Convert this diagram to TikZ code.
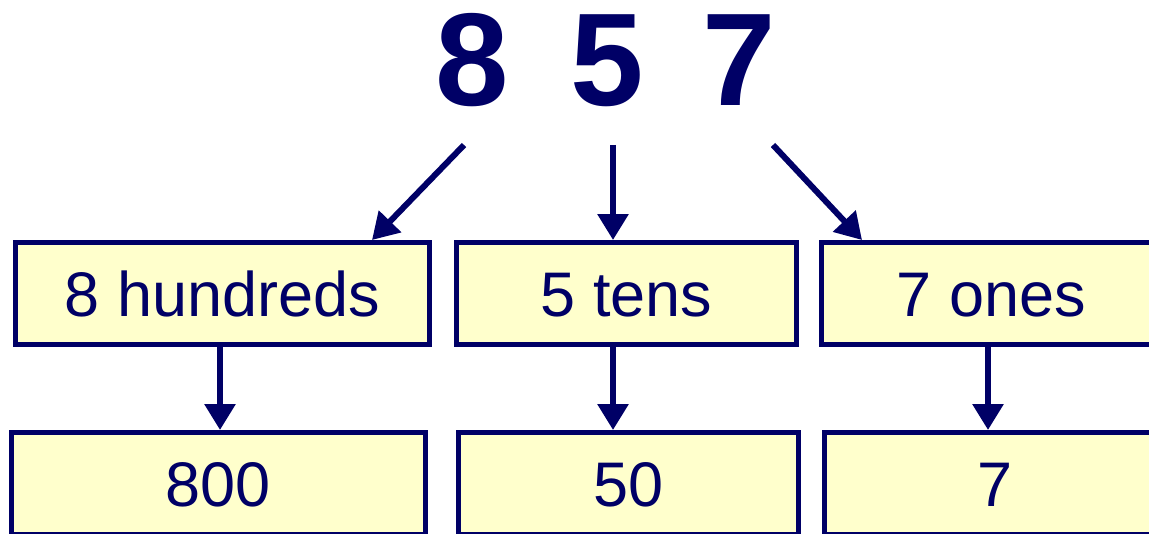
\documentclass[tikz,border=0pt]{standalone}
\usepackage{fontspec}
\setmainfont{Liberation Sans}
\usetikzlibrary{positioning,arrows.meta}
\definecolor{pvnavy}{HTML}{000066}
\definecolor{pvcream}{HTML}{FFFFCC}
\tikzset{
    digit/.style={text=pvnavy,font=\fontsize{66}{66}\selectfont\bfseries,inner sep=0pt,anchor=base},
    place/.style={draw=pvnavy,fill=pvcream,line width=2.5pt,text=pvnavy,
        font=\fontsize{31.5}{32}\selectfont,minimum height=51pt,inner sep=0pt,
        text height=22.5pt,text depth=0pt},
    wide/.style={place,minimum width=207pt},
    narrow/.style={place,minimum width=170pt},
    link/.style={draw=pvnavy,line width=3pt,-{Triangle[width=15pt,length=13pt]}},
}

\begin{document}
\begin{tikzpicture}[x=0.5pt,y=-0.5pt,node distance=41.5pt]
    \useasboundingbox (0,0) rectangle (1149,534);

    % the number, one node per digit
    \node[digit] (d8) at (472.5,106) {8};
    \node[digit] (d5) at (607,106) {5};
    \node[digit] (d7) at (739,106) {7};

    % where the arrows leave the digits, and the columns they run down
    \coordinate (from8) at (464,145);
    \coordinate (from5) at (613,145);
    \coordinate (from7) at (773,145);
    \coordinate (col8) at (220,0);
    \coordinate (col5) at (613,0);
    \coordinate (col7) at (988,0);

    % place values
    \node[wide] (hund) at (222.5,293.5) {8 hundreds};
    \node[narrow] (tens) at (626.5,293.5) {5 tens};
    \node[narrow] (ones) at (991.5,293.5) {7 ones};

    % values
    \node[wide,below=of hund,xshift=-2.25pt] (v800) {800};
    \node[narrow,below=of tens,xshift=1pt] (v50) {50};
    \node[narrow,below=of ones,xshift=1.5pt] (v7) {7};

    \draw[link] (from8) -- ([xshift=74.75pt]hund.north);
    \draw[link] (from5) -- (tens.north -| from5);
    \draw[link] (from7) -- ([xshift=-64.75pt]ones.north);

    \draw[link] (hund.south -| col8) -- (v800.north -| col8);
    \draw[link] (tens.south -| col5) -- (v50.north -| col5);
    \draw[link] (ones.south -| col7) -- (v7.north -| col7);
\end{tikzpicture}
\end{document}
